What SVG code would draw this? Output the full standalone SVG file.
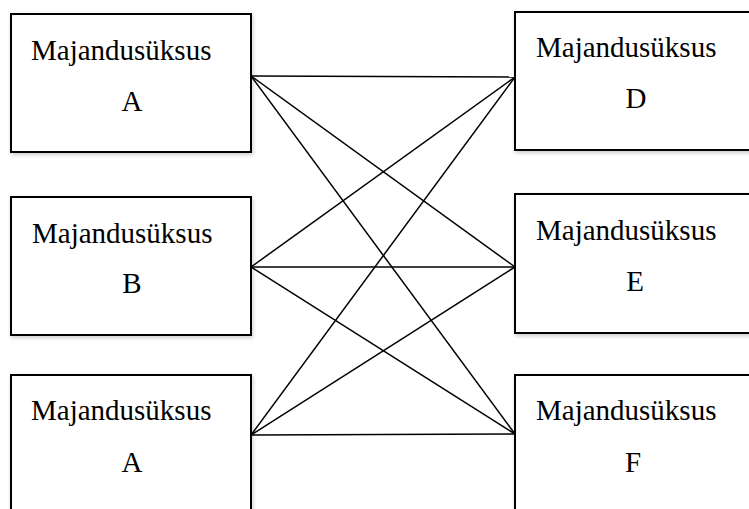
<svg xmlns="http://www.w3.org/2000/svg" width="749" height="509" viewBox="0 0 749 509">
<defs>
<filter id="sh" x="-10%" y="-10%" width="120%" height="120%">
<feGaussianBlur in="SourceAlpha" stdDeviation="2"/>
<feOffset dx="1" dy="2" result="b"/>
<feComponentTransfer><feFuncA type="linear" slope="0.2"/></feComponentTransfer>
<feMerge><feMergeNode/><feMergeNode in="SourceGraphic"/></feMerge>
</filter>
</defs>
<style>
.box{fill:#fff;stroke:#000;stroke-width:2;filter:url(#sh)}
.t{font-family:'Liberation Serif','Times New Roman',serif;font-size:29px;fill:#000}
.c{text-anchor:middle}
.ln{stroke:#000;stroke-width:1.5;fill:none}
</style>
<rect width="749" height="509" fill="#fff"/>
<g id="connectors">
<line class="ln" x1="251" y1="76" x2="515" y2="77"/>
<line class="ln" x1="251" y1="76" x2="515" y2="267"/>
<line class="ln" x1="251" y1="76" x2="515" y2="434"/>
<line class="ln" x1="251" y1="267" x2="515" y2="77"/>
<line class="ln" x1="251" y1="267" x2="515" y2="267"/>
<line class="ln" x1="251" y1="267" x2="515" y2="434"/>
<line class="ln" x1="251" y1="435" x2="515" y2="77"/>
<line class="ln" x1="251" y1="435" x2="515" y2="267"/>
<line class="ln" x1="251" y1="435" x2="515" y2="434"/>
</g>
<g id="nodeA">
<rect class="box" x="11" y="14" width="240" height="138"/>
<text class="t" x="31" y="60">Majandusüksus</text>
<text class="t c" x="132" y="111">A</text>
</g>
<g id="nodeB">
<rect class="box" x="11" y="197" width="240" height="138"/>
<text class="t" x="32" y="243">Majandusüksus</text>
<text class="t c" x="132" y="293">B</text>
</g>
<g id="nodeA2">
<rect class="box" x="11" y="375" width="240" height="150"/>
<text class="t" x="31" y="420">Majandusüksus</text>
<text class="t c" x="132" y="472">A</text>
</g>
<g id="nodeD">
<rect class="box" x="515" y="12" width="250" height="138"/>
<text class="t" x="536" y="57">Majandusüksus</text>
<text class="t c" x="636" y="108">D</text>
</g>
<g id="nodeE">
<rect class="box" x="515" y="194" width="250" height="139"/>
<text class="t" x="536" y="240">Majandusüksus</text>
<text class="t c" x="635" y="291">E</text>
</g>
<g id="nodeF">
<rect class="box" x="515" y="375" width="250" height="150"/>
<text class="t" x="536" y="420">Majandusüksus</text>
<text class="t c" x="633" y="472">F</text>
</g>
</svg>
